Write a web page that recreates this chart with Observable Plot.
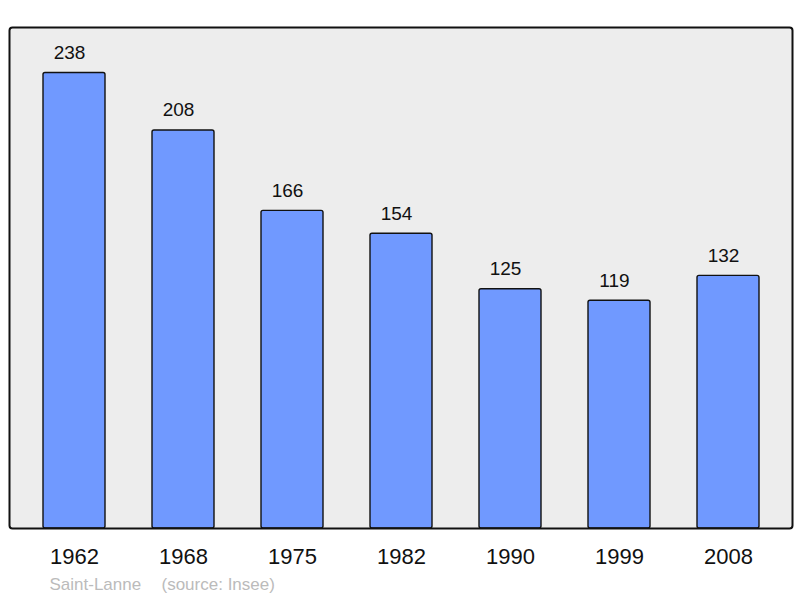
<!DOCTYPE html>
<html>
<head>
<meta charset="utf-8">
<script src="https://cdn.jsdelivr.net/npm/d3@7"></script>
<script src="https://cdn.jsdelivr.net/npm/@observablehq/plot@0.6"></script>
<style>
  html, body { margin: 0; padding: 0; background: #fff; }
  svg { font-family: "Liberation Sans", Arial, sans-serif; }
</style>
</head>
<body>
<div id="chart"></div>
<script>
const years = ["1962", "1968", "1975", "1982", "1990", "1999", "2008"];
const population = [238, 208, 166, 154, 125, 119, 132];
const captionName = "Saint-Lanne";
const captionSource = "(source: Insee)";

const data = years.map((y, i) => ({year: y, value: population[i]}));

const chart = Plot.plot({
  width: 800,
  height: 598,
  marginTop: 27,
  marginBottom: 70,
  marginLeft: 9,
  marginRight: 8,
  style: {fontFamily: "'Liberation Sans', Arial, sans-serif", background: "#fff"},
  x: {domain: years, range: [42, 761], paddingInner: 0.43, paddingOuter: 0, label: null},
  y: {domain: [0, 261.8], axis: null},
  marks: [
    Plot.frame({fill: "#ededed", stroke: "none", rx: 3}),
    Plot.barY(data, {x: "year", y: "value", fill: "#7099ff", stroke: "#111", strokeWidth: 1.4, rx: 2}),
    Plot.frame({stroke: "#111", strokeWidth: 2, rx: 3}),
    Plot.text(data, {x: "year", y: "value", text: d => String(d.value), lineAnchor: "bottom", dy: -14, dx: -5, fontSize: 19, fill: "#111"}),
    Plot.axisX({tickSize: 0, tickPadding: 20, fontSize: 22, fill: "#111", label: null}),
    Plot.text([captionName], {frameAnchor: "bottom-left", text: d => d, textAnchor: "start", lineAnchor: "middle", dx: 40, dy: 56, fontSize: 17, fill: "#bbb"}),
    Plot.text([captionSource], {frameAnchor: "bottom-left", text: d => d, textAnchor: "start", lineAnchor: "middle", dx: 152, dy: 56, fontSize: 17, fill: "#bbb"})
  ]
});
document.getElementById("chart").appendChild(chart);
</script>
</body>
</html>
